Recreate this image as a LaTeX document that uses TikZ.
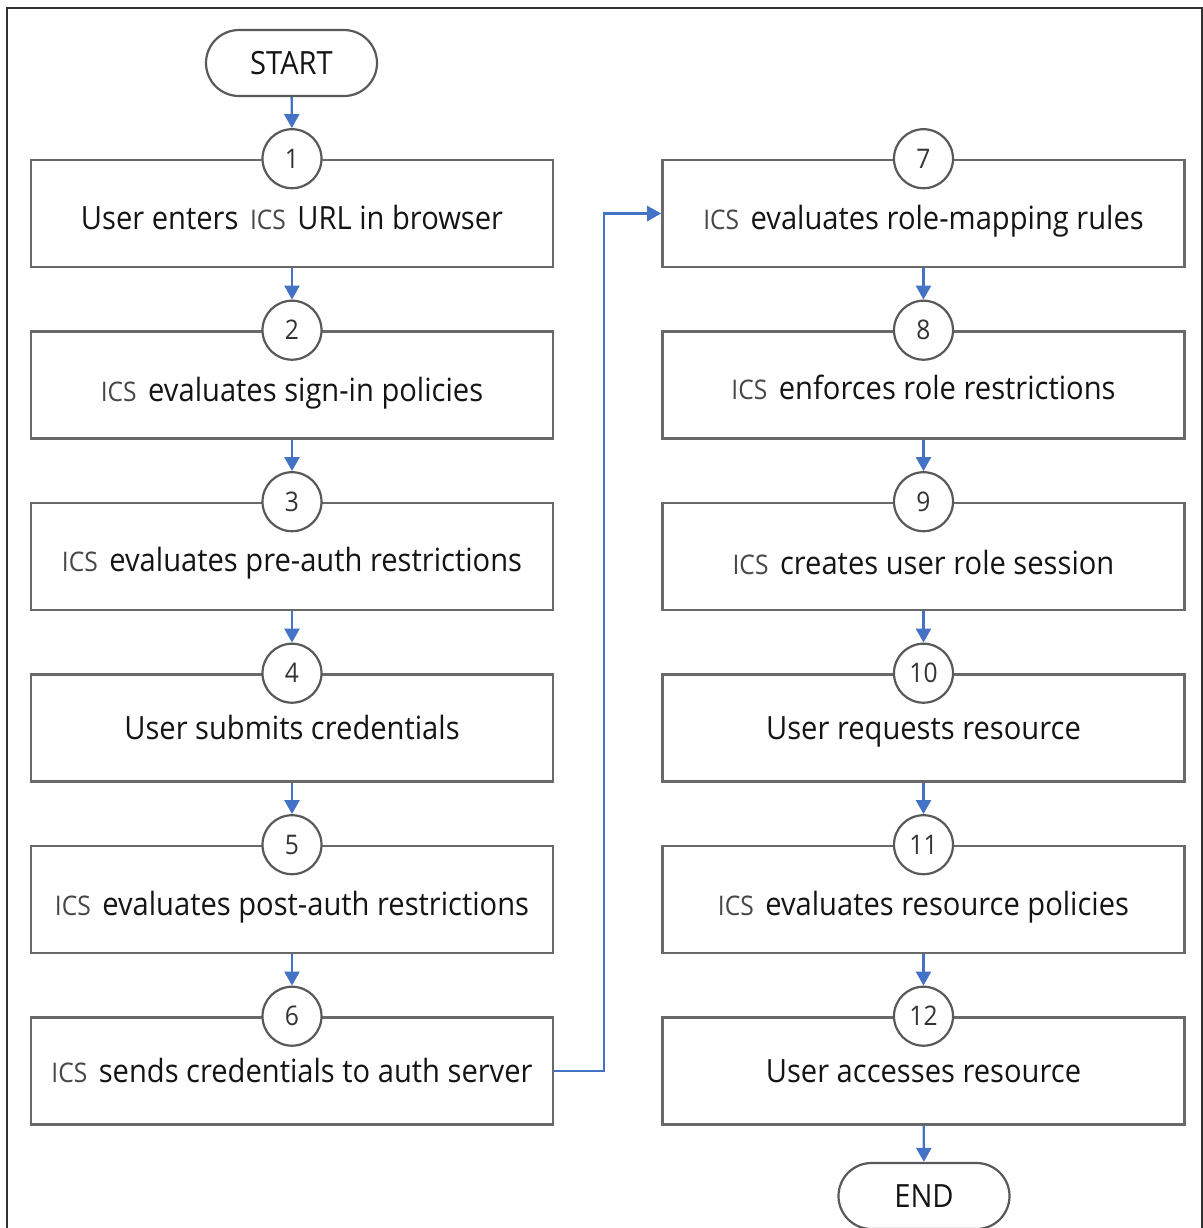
\documentclass[tikz,border=0pt]{standalone}
\usepackage{xcolor}
\usepackage{tikz}
\usepackage{fontspec}
\setmainfont{Open Sans}[FakeStretch=0.91]
\usetikzlibrary{arrows.meta,shapes.misc}
\definecolor{flowblue}{RGB}{68, 114, 196}
\definecolor{boxgray}{RGB}{105, 105, 105}
\definecolor{framegray}{RGB}{50, 50, 50}
\definecolor{textdark}{RGB}{20, 20, 20}
\newcommand{\ics}{{\fontsize{13.5}{15}\selectfont\color{black!72}ICS}\kern2pt}

\begin{document}
\begin{tikzpicture}[x=0.5pt, y=-0.5pt,
  stepbox/.style={draw=boxgray, line width=1.3pt, fill=white, minimum width=261pt, minimum height=53.5pt, inner sep=0pt, text height=16pt, text depth=0pt, text=textdark, font=\fontsize{16}{19}\selectfont},
  hightext/.style={text height=11pt},
  numcircle/.style={circle, draw=boxgray!85!black, line width=1.1pt, fill=white, minimum size=29.5pt, inner sep=0pt, text=black!80, font=\fontsize{13.5}{15}\selectfont},
  terminal/.style={rounded rectangle, draw=boxgray!85!black, line width=1.1pt, fill=white, minimum width=85.5pt, minimum height=33pt, inner sep=0pt, text=textdark, font=\fontsize{16}{19}\selectfont},
  flow/.style={-{Triangle[width=7.5pt,length=7pt]}, flowblue, line width=1.2pt}]
\useasboundingbox (0,0) rectangle (1203,1228);

% Outer frame
\draw[line width=1pt, framegray] (6.5,1240) -- (6.5,8) -- (1201.5,8) -- (1201.5,1240);

% Start
\node[terminal] (start) at (291.5,63) {START};

% Left column
\node[stepbox] (s1) at (292,213.5) {User enters \kern2pt\ics\ URL in browser};
\node[stepbox] (s2) at (292,385) {\ics\ evaluates sign-in policies};
\node[stepbox, text height=14.5pt] (s3) at (292,556.5) {\ics\ evaluates pre-auth restrictions};
\node[stepbox, hightext] (s4) at (292,728) {User submits credentials};
\node[stepbox] (s5) at (292,899.5) {\ics\ evaluates post-auth restrictions};
\node[stepbox, hightext] (s6) at (292,1071) {\ics\ sends credentials to auth server};

% Right column
\node[stepbox] (s7) at (923.5,213.5) {\ics\ evaluates role-mapping rules};
\node[stepbox, text height=14pt] (s8) at (923.5,385) {\ics\ enforces role restrictions};
\node[stepbox, text height=17.5pt] (s9) at (923.5,556.5) {\ics\ creates user role session};
\node[stepbox, hightext] (s10) at (923.5,728) {User requests resource};
\node[stepbox] (s11) at (923.5,899.5) {\ics\ evaluates resource policies};
\node[stepbox, hightext] (s12) at (923.5,1071) {User accesses resource};

% End
\node[terminal] (stop) at (924,1196) {END};

% Step numbers
\node[numcircle] (n1) at (s1.north) {1};
\node[numcircle] (n2) at (s2.north) {2};
\node[numcircle] (n3) at (s3.north) {3};
\node[numcircle] (n4) at (s4.north) {4};
\node[numcircle] (n5) at (s5.north) {5};
\node[numcircle] (n6) at (s6.north) {6};
\node[numcircle] (n7) at (s7.north) {7};
\node[numcircle] (n8) at (s8.north) {8};
\node[numcircle] (n9) at (s9.north) {9};
\node[numcircle] (n10) at (s10.north) {10};
\node[numcircle] (n11) at (s11.north) {11};
\node[numcircle] (n12) at (s12.north) {12};

% Arrows
\draw[flow] (start) -- (n1);
\draw[flow] (s1) -- (n2);
\draw[flow] (s2) -- (n3);
\draw[flow] (s3) -- (n4);
\draw[flow] (s4) -- (n5);
\draw[flow] (s5) -- (n6);
\coordinate (jog) at (604,600);
\draw[flow] (s6.east) -- (s6.east -| jog) |- (s7.west);
\draw[flow] (s7) -- (n8);
\draw[flow] (s8) -- (n9);
\draw[flow] (s9) -- (n10);
\draw[flow] (s10) -- (n11);
\draw[flow] (s11) -- (n12);
\draw[flow] (s12) -- (stop);
\end{tikzpicture}
\end{document}
